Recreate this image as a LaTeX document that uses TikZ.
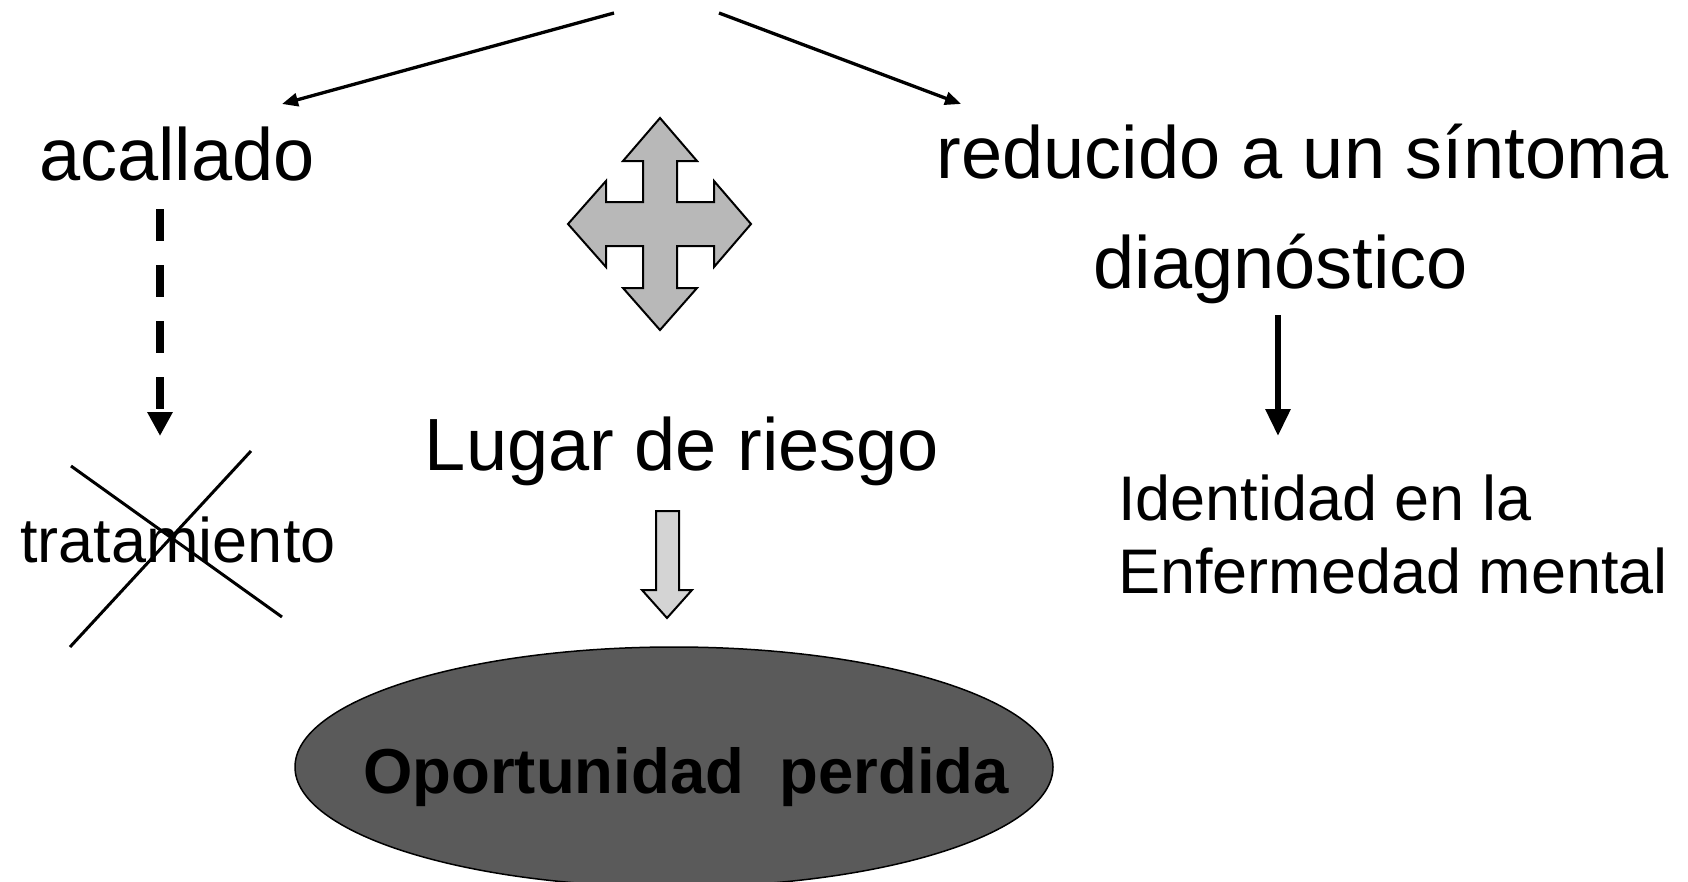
\documentclass[tikz,border=0pt]{standalone}
\usepackage{fontspec}
\setmainfont{Liberation Sans}
\usetikzlibrary{arrows.meta,shapes.geometric}
\definecolor{ellgray}{HTML}{5A5A5A}
\definecolor{crossgray}{HTML}{B8B8B8}
\definecolor{downgray}{HTML}{D4D4D4}
\tikzset{
  bigtext/.style={inner sep=0pt,anchor=base,font=\fontsize{74}{80}\selectfont},
  smalltext/.style={inner sep=0pt,font=\fontsize{63}{70}\selectfont},
  toparrow/.style={line width=3.3pt,-{Triangle[length=16pt,width=13pt]}},
  dasharrow/.style={line width=7.5pt,dash pattern=on 32pt off 24pt,-{Triangle[length=24pt,width=24pt]}},
  solidarrow/.style={line width=6pt,-{Triangle[length=27pt,width=24pt]}},
  crossline/.style={line width=3pt},
  blockarrow/.style={draw=black,line width=2pt,line join=miter},
}
\begin{document}
\begin{tikzpicture}[x=1pt,y=-1pt]
\useasboundingbox (0,0) rectangle (1688,881);
% texts
\node[bigtext] (acallado) at (177,180) {acallado};
\node[bigtext] (reducido) at (1303,178) {reducido a un síntoma};
\node[bigtext] (diag) at (1281,288) {diagnóstico};
\node[bigtext] (lugar) at (682,470) {Lugar de riesgo};
\node[smalltext,anchor=base] (trat) at (178,562) {tratamiento};
\node[smalltext,anchor=base west] (ident1) at (1118,520) {Identidad en la};
\node[smalltext,anchor=base west] (ident2) at (1118,593) {Enfermedad mental};
% top arrows
\coordinate (topL) at (614,13);
\coordinate (endL) at (282,104);
\coordinate (topR) at (719,13);
\coordinate (endR) at (961,104);
\draw[toparrow] (topL) -- (endL);
\draw[toparrow] (topR) -- (endR);
% dashed arrow
\coordinate (dashS) at (160,209);
\coordinate (dashE) at (160,436);
\draw[dasharrow] (dashS) -- (dashE);
% cross
\coordinate (x1a) at (71,466);
\coordinate (x1b) at (282,617);
\coordinate (x2a) at (251,451);
\coordinate (x2b) at (70,647);
\draw[crossline] (x1a) -- (x1b);
\draw[crossline] (x2a) -- (x2b);
% solid arrow right
\coordinate (solS) at (1278,315);
\coordinate (solE) at (1278,436);
\draw[solidarrow] (solS) -- (solE);
% four-way arrow
\draw[blockarrow,fill=crossgray] (660,118) -- (697,161) -- (677,161) -- (677,202) -- (714,202) -- (714,181) -- (751,224) -- (714,267) -- (714,246) -- (677,246) -- (677,288) -- (697,288) -- (660,330) -- (623,288) -- (643,288) -- (643,246) -- (606,246) -- (606,267) -- (568,224) -- (606,181) -- (606,202) -- (643,202) -- (643,161) -- (623,161) -- cycle;
% down block arrow
\draw[blockarrow,fill=downgray] (656,511) -- (679,511) -- (679,590) -- (692,590) -- (667,618) -- (642,590) -- (656,590) -- cycle;
% ellipse
\node[ellipse,draw=black,line width=1.5pt,fill=ellgray,minimum width=758pt,minimum height=240pt,inner sep=0pt] (ell) at (674,767) {};
\node[inner sep=0pt,anchor=base,font=\fontsize{63.5}{70}\selectfont\bfseries] (oport) at (686,793) {Oportunidad\ \ perdida};
\end{tikzpicture}
\end{document}
